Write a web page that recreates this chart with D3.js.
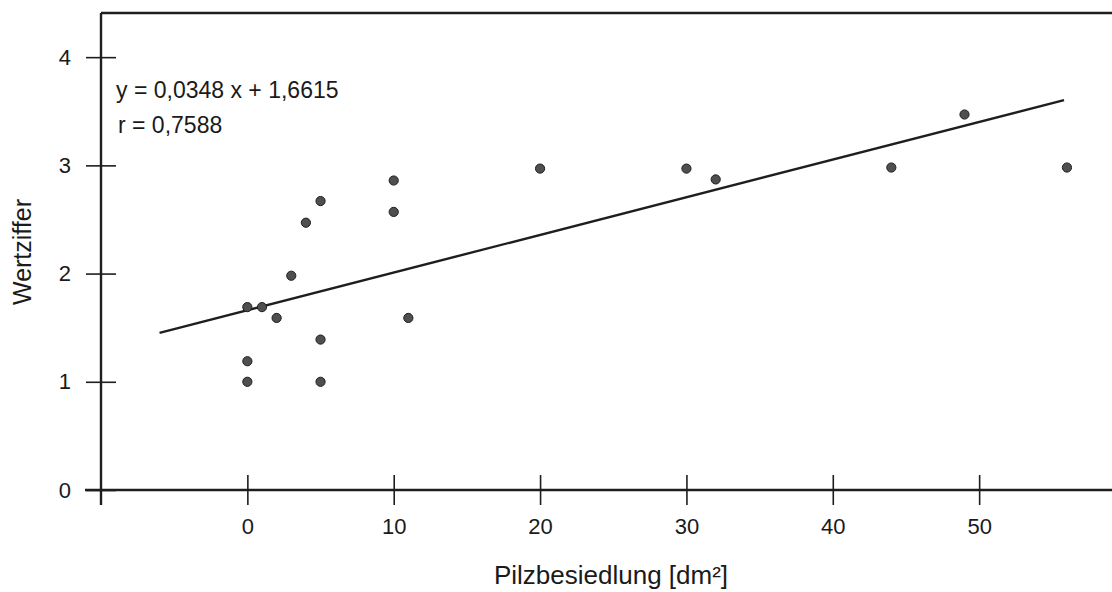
<!DOCTYPE html>
<html>
<head>
<meta charset="utf-8">
<script src="https://cdn.jsdelivr.net/npm/d3@7"></script>
<style>
  body { margin: 0; background: #fff; }
  text { font-family: "Liberation Sans", Arial, sans-serif; fill: #1a1a1a; }
</style>
</head>
<body>
<div id="chart"></div>
<script>
// * Data
var pilz = [0, 1, 2, 3, 4, 5, 5, 0, 0, 5, 10, 10, 11, 20, 30, 32, 44, 49, 56];
var wert = [1.69, 1.69, 1.59, 1.98, 2.47, 2.67, 1.39, 1.19, 1.0, 1.0, 2.86, 2.57, 1.59, 2.97, 2.97, 2.87, 2.98, 3.47, 2.98];
var xTicks = [0, 10, 20, 30, 40, 50];
var yTicks = [0, 1, 2, 3, 4];
var slope = 0.0348;
var intercept = 1.6615;
var lineRange = [-6, 55.8];
var eqLabels = ["y = 0,0348 x + 1,6615", "r = 0,7588"];

var W = 1112, H = 592;

var svg = d3.select("#chart").append("svg")
  .attr("width", W)
  .attr("height", H);

// * Scales
var x = d3.scaleLinear().domain([-10, 60]).range([101, 1125.5]);
var y = d3.scaleLinear().domain([0, 4.408]).range([490, 13]);

var ink = "#1e1e1e";

// * frame (top + left) and x axis line
svg.append("line")
  .attr("x1", x(-10)).attr("x2", W)
  .attr("y1", y(4.408)).attr("y2", y(4.408))
  .attr("stroke", ink).attr("stroke-width", 2.6);
svg.append("line")
  .attr("x1", x(-10)).attr("x2", x(-10))
  .attr("y1", y(4.408)).attr("y2", 505)
  .attr("stroke", ink).attr("stroke-width", 2.4);
svg.append("line")
  .attr("x1", 85).attr("x2", W)
  .attr("y1", y(0)).attr("y2", y(0))
  .attr("stroke", ink).attr("stroke-width", 2.6);

// * x axis ticks (cross the axis line)
var xAxisG = svg.append("g")
  .attr("transform", "translate(0," + (y(0) - 15) + ")")
  .call(d3.axisBottom(x).tickValues(xTicks).tickSize(30).tickPadding(13).tickFormat(d3.format("d")));
xAxisG.select(".domain").remove();
xAxisG.selectAll(".tick line").attr("stroke", ink).attr("stroke-width", 1.6);
xAxisG.selectAll("text")
  .style("font-size", "22px")
  .style("font-family", "'Liberation Sans', Arial, sans-serif")
  .attr("fill", ink);

// * y axis ticks
var yAxisG = svg.append("g")
  .attr("transform", "translate(" + (x(-10) + 15) + ",0)")
  .call(d3.axisLeft(y).tickValues(yTicks).tickSize(30).tickPadding(15).tickFormat(d3.format("d")));
yAxisG.select(".domain").remove();
yAxisG.selectAll(".tick line").attr("stroke", ink).attr("stroke-width", 1.6);
yAxisG.selectAll("text")
  .style("font-size", "22px")
  .style("font-family", "'Liberation Sans', Arial, sans-serif")
  .attr("fill", ink);

// * regression line
svg.append("line")
  .attr("x1", x(lineRange[0])).attr("y1", y(slope * lineRange[0] + intercept))
  .attr("x2", x(lineRange[1])).attr("y2", y(slope * lineRange[1] + intercept))
  .attr("stroke", ink).attr("stroke-width", 2.4);

// * points
svg.selectAll(".dot")
  .data(pilz)
  .enter()
  .append("circle")
  .attr("class", "dot")
  .attr("cx", function (d) { return x(d); })
  .attr("cy", function (d, i) { return y(wert[i]); })
  .attr("r", 4.6)
  .attr("fill", "#4f4f4f")
  .attr("stroke", "#1e1e1e")
  .attr("stroke-width", 1);

// * equation text
svg.append("text")
  .attr("x", 116).attr("y", 98)
  .style("font-size", "23px")
  .text(eqLabels[0]);
svg.append("text")
  .attr("x", 118).attr("y", 133)
  .style("font-size", "23px")
  .text(eqLabels[1]);

// * axis titles
svg.append("text")
  .attr("x", 611).attr("y", 584)
  .style("text-anchor", "middle")
  .style("font-size", "26px")
  .text("Pilzbesiedlung [dm²]");

svg.append("text")
  .attr("transform", "translate(31,252) rotate(-90)")
  .style("text-anchor", "middle")
  .style("font-size", "25px")
  .text("Wertziffer");
</script>
</body>
</html>
